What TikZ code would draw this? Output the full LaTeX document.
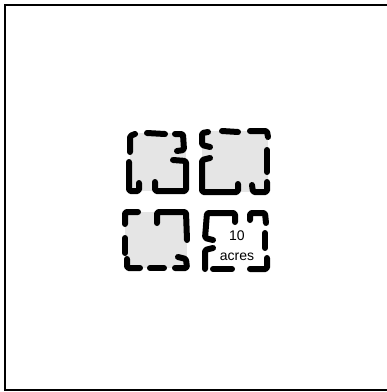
\documentclass[tikz,border=0pt]{standalone}
\usepackage{fontspec}
\setmainfont{Liberation Sans}

\begin{document}
\begin{tikzpicture}[
    x=1pt, y=-1pt,
    frame/.style={draw, line width=1.6pt},
    lot/.style={fill=black!10},
    fence/.style={line width=6pt, line cap=round, line join=round,
                  rounded corners=1.5pt},
    lab/.style={align=center, inner sep=0pt,
                font={\fontsize{14}{20}\selectfont}},
]
\useasboundingbox (0,0) rectangle (387,392);

% ---------- Outer frame ----------
\draw[frame] (5,5) rectangle (389,390);

% ---------- Shaded lots ----------
\fill[lot] (130,133) rectangle (186,191);
\fill[lot] (202,131) rectangle (268,192);
\fill[lot] (125,212) rectangle (187,268);

% ---------- Top-left lot ----------
\draw[fence] (135,134) -- (130,136) -- (130,152);
\draw[fence] (147,133) -- (165,134);
\draw[fence] (175,134) -- (183,134) -- (184,150) -- (177,151);
\draw[fence] (173,160) -- (186,161) -- (186,191) -- (155,191) -- (155,182);
\draw[fence] (129,162) -- (129,191) -- (139,191) -- (139,183);

% ---------- Top-right lot ----------
\draw[fence] (208,132) -- (202,133) -- (202,145) -- (210,147);
\draw[fence] (222,131) -- (238,132);
\draw[fence] (250,131) -- (267,131) -- (268,137);
\draw[fence] (267,150) -- (267,172);
\draw[fence] (267,182) -- (267,192) -- (253,192) -- (252,185);
\draw[fence] (210,158) -- (202,160) -- (202,192) -- (238,192) -- (238,184);

% ---------- Bottom-left lot ----------
\draw[fence] (138,212) -- (125,212) -- (125,224);
\draw[fence] (157,223) -- (157,212) -- (186,212) -- (187,240);
\draw[fence] (125,238) -- (125,253);
\draw[fence] (127,259) -- (127,268) -- (140,268);
\draw[fence] (150,268) -- (164,268);
\draw[fence] (178,257) -- (186,259) -- (187,268) -- (175,268);

% ---------- Bottom-right lot (10 acres) ----------
\draw[fence] (235,222) -- (235,213) -- (207,213) -- (205,238) -- (213,240);
\draw[fence] (250,220) -- (250,213) -- (265,213) -- (266,223);
\draw[fence] (265,233) -- (265,248);
\draw[fence] (213,248) -- (205,250) -- (205,269);
\draw[fence] (213,269) -- (232,269);
\draw[fence] (250,269) -- (267,269) -- (267,258);
\node[lab] (area) at (237,246) {10\\acres};

\end{tikzpicture}
\end{document}
